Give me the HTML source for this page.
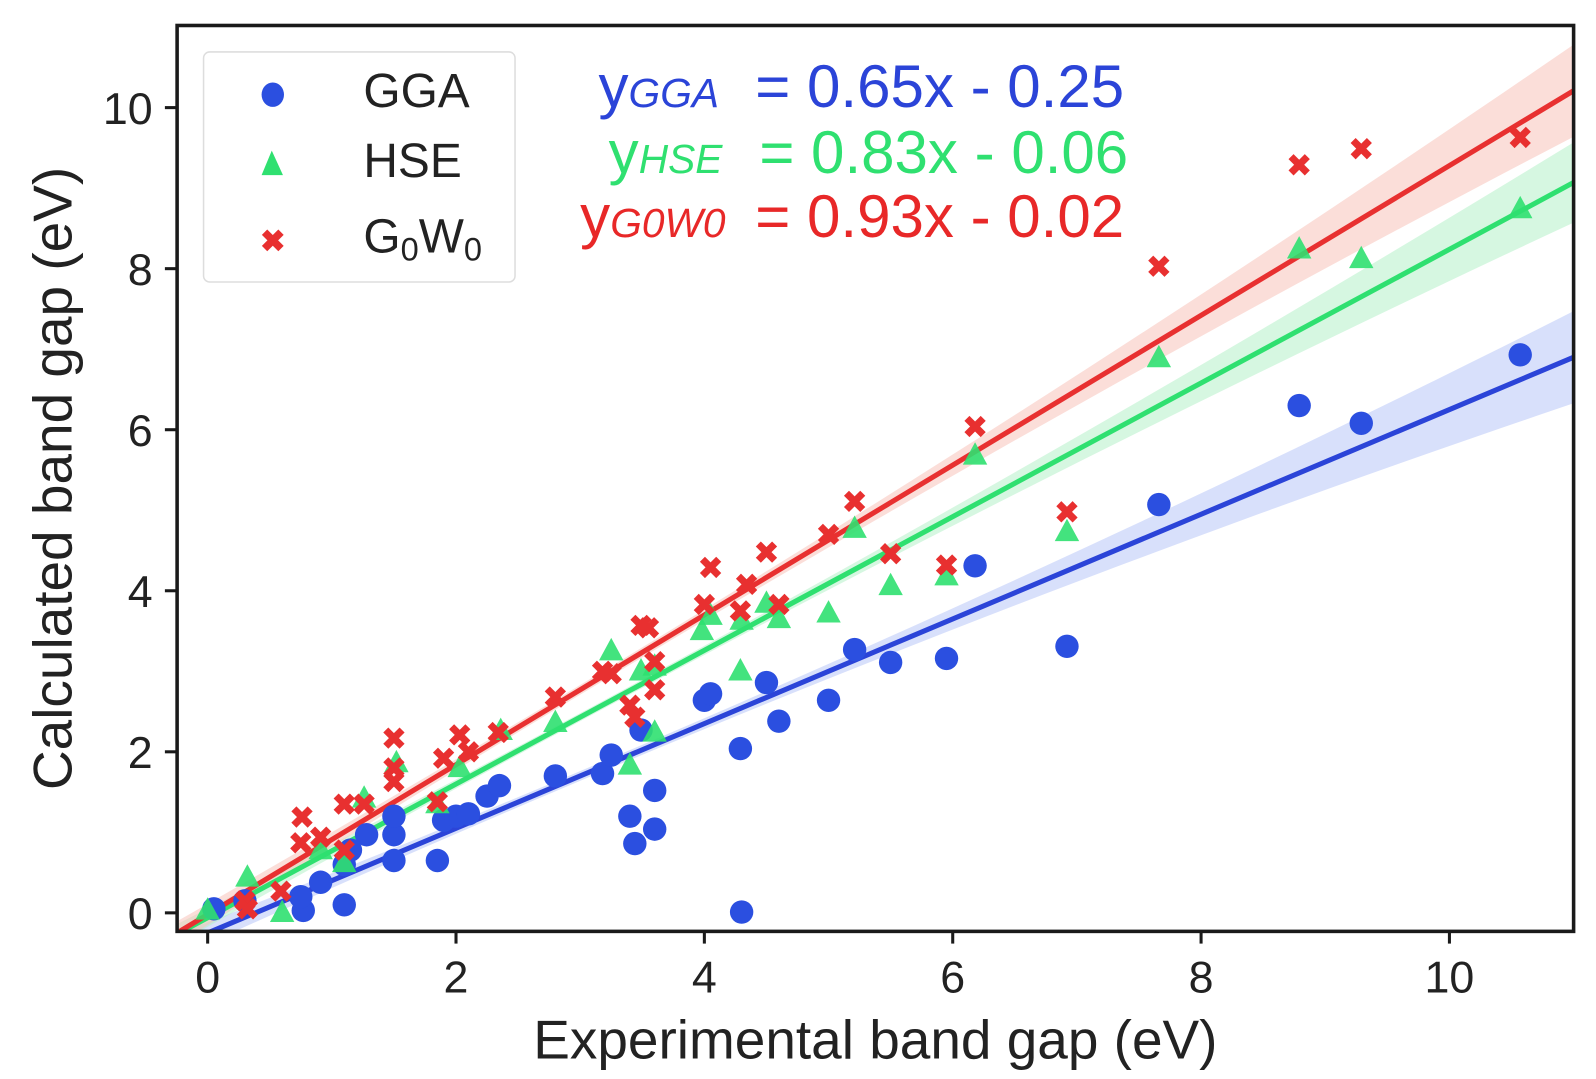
<!DOCTYPE html>
<html><head><meta charset="utf-8"><style>
body{margin:0;background:#fff;width:1596px;height:1079px;overflow:hidden}
svg{font-family:"Liberation Sans",sans-serif;display:block}
</style></head><body>
<svg id="chart" width="1596" height="1079" viewBox="0 0 1568 1060" xmlns="http://www.w3.org/2000/svg">
<g id="bands"></g><g id="lines"></g><g id="marks"></g>
<rect x="174" y="25" width="1372" height="890" fill="none" stroke="#1a1a1a" stroke-width="3.5"/>
<g id="ticks"></g>
<text x="860" y="1040" font-size="54" text-anchor="middle" fill="#222">Experimental band gap (eV)</text>
<text transform="translate(70,470) rotate(-90)" font-size="54" text-anchor="middle" fill="#222">Calculated band gap (eV)</text>
<g>
<rect x="200" y="51" width="306" height="226" rx="6" fill="#fff" stroke="#ddd" stroke-width="1.5"/>
<ellipse cx="268" cy="93" rx="11" ry="12" fill="#2b4fe0"/>
<text x="357" y="105" font-size="47" fill="#222">GGA</text>
<polygon points="267,148 257,172 278,172" fill="#2fe070"/>
<text x="357" y="174" font-size="47" fill="#222">HSE</text>
<text x="268" y="247" font-size="30" font-weight="bold" fill="#e83030" text-anchor="middle">✖</text>
<text x="357" y="248" font-size="47" fill="#222">G<tspan font-size="32" dy="8">0</tspan><tspan dy="-8">W</tspan><tspan font-size="32" dy="8">0</tspan></text>
</g>
<g font-size="59">
<text x="588" y="105" fill="#2b44d8">y<tspan font-size="40" font-style="italic">GGA</tspan><tspan x="742">= 0.65x - 0.25</tspan></text>
<text x="598" y="170" fill="#2fe070">y<tspan font-size="40" font-style="italic">HSE</tspan><tspan x="746">= 0.83x - 0.06</tspan></text>
<text x="570" y="233" fill="#e82828">y<tspan font-size="40" font-style="italic">G0W0</tspan><tspan x="742">= 0.93x - 0.02</tspan></text>
</g>
</svg>
<script>
const xTicks=[0,2,4,6,8,10];
const yTicks=[0,2,4,6,8,10];
const ggaX=[0.05,0.3,0.77,0.75,0.91,1.1,1.1,1.15,1.28,1.5,1.5,1.5,1.85,1.9,2.0,2.1,2.25,2.35,2.8,3.18,3.25,3.4,3.44,3.49,3.6,3.6,4.0,4.05,4.29,4.3,4.5,4.6,5.0,5.21,5.5,5.95,6.18,6.92,7.66,8.79,9.29,10.57];
const ggaY=[0.05,0.15,0.03,0.2,0.38,0.1,0.6,0.78,0.97,0.97,1.2,0.65,0.65,1.15,1.2,1.23,1.45,1.58,1.7,1.73,1.96,1.2,0.86,2.27,1.52,1.04,2.64,2.72,2.04,0.01,2.86,2.38,2.64,3.27,3.11,3.16,4.31,3.31,5.07,6.3,6.08,6.93];
const hseX=[0.0,0.32,0.6,0.91,1.1,1.26,1.52,1.85,2.03,2.36,2.8,3.25,3.4,3.49,3.6,3.6,3.98,4.05,4.29,4.3,4.5,4.6,5.0,5.21,5.5,5.95,6.18,6.92,7.66,8.79,9.29,10.57];
const hseY=[0.03,0.44,0.0,0.78,0.62,1.42,1.86,1.35,1.8,2.26,2.36,3.25,1.83,3.0,2.24,3.06,3.5,3.69,3.0,3.63,3.84,3.65,3.72,4.77,4.06,4.18,5.68,4.73,6.89,8.24,8.12,8.74];
const gwX=[0.3,0.32,0.59,0.76,0.75,0.91,1.1,1.1,1.26,1.5,1.5,1.5,1.85,1.9,2.03,2.1,2.34,2.8,3.18,3.25,3.4,3.44,3.49,3.55,3.6,3.6,4.0,4.05,4.29,4.34,4.5,4.6,5.0,5.21,5.5,5.95,6.18,6.92,7.66,8.79,9.29,10.57];
const gwY=[0.15,0.05,0.27,1.19,0.87,0.94,0.78,1.35,1.35,2.17,1.63,1.8,1.38,1.92,2.21,2.0,2.24,2.68,3.0,2.97,2.58,2.43,3.57,3.54,2.77,3.12,3.83,4.29,3.75,4.08,4.48,3.83,4.7,5.11,4.46,4.32,6.04,4.98,8.03,9.29,9.49,9.63];
const fitSlope=[0.65,0.83,0.93];
const fitIntercept=[-0.25,-0.06,-0.02];
const colors=['#2b44d8','#2fe070','#e83030'];
const bandColors=['#b8c6f7','#b4f0c8','#f7c2ba'];
const NS='http://www.w3.org/2000/svg';
const X0=174,X1=1546,Y0=25,Y1=915;
const xmin=-0.246,xmax=11.0,ymin=-0.23,ymax=11.02;
const sx=v=>X0+(v-xmin)/(xmax-xmin)*(X1-X0);
const sy=v=>Y1-(v-ymin)/(ymax-ymin)*(Y1-Y0);
function mk(tag,parent,attrs){const e=document.createElementNS(NS,tag);for(const k in attrs)e.setAttribute(k,attrs[k]);parent.appendChild(e);return e;}
const tg=document.getElementById('ticks');
xTicks.forEach(t=>{
 const l=mk('line',tg,{x1:sx(t),x2:sx(t),y1:Y1,y2:Y1+12,stroke:'#1a1a1a','stroke-width':3});
 
 
 const tx=mk('text',tg,{x:sx(t),y:975,'font-size':44,'text-anchor':'middle',fill:'#222'});
 tx.textContent=t;
 
 
});
yTicks.forEach(t=>{
 const l=mk('line',tg,{x1:X0-12,x2:X0,y1:sy(t),y2:sy(t),stroke:'#1a1a1a','stroke-width':3});
 
 
 const tx=mk('text',tg,{x:X0-24,y:sy(t)+16,'font-size':44,'text-anchor':'end',fill:'#222'});
 tx.textContent=t;
 
 
});
const bg=document.getElementById('bands'),lg=document.getElementById('lines');
const names=['gga','hse','g0w0'];
const bandBase=[0.06,0.05,0.06],bandGrow=[0.008,0.007,0.008];
for(let i=0;i<3;i++){
 const f=x=>fitSlope[i]*x+fitIntercept[i];
 const top=[],bot=[];
 for(let k=0;k<=40;k++){const x=xmin+(xmax-xmin)*k/40;const w=bandBase[i]+bandGrow[i]*(x-3)*(x-3);top.push(sx(x)+','+sy(f(x)+w));bot.unshift(sx(x)+','+sy(f(x)-w));}
 const p=mk('polygon',bg,{points:top.concat(bot).join(' '),fill:bandColors[i],opacity:0.55});
 
 
 const l=mk('line',lg,{x1:sx(xmin),y1:sy(f(xmin)),x2:sx(xmax),y2:sy(f(xmax)),stroke:colors[i],'stroke-width':5});
 
 
}
const mg=document.getElementById('marks');
const clip=mk('clipPath',document.getElementById('chart'),{id:'pc'});mk('rect',clip,{x:X0,y:Y0,width:X1-X0,height:Y1-Y0});
mg.setAttribute('clip-path','url(#pc)');
document.getElementById('bands').setAttribute('clip-path','url(#pc)');
document.getElementById('lines').setAttribute('clip-path','url(#pc)');
ggaX.forEach((x,i)=>{const c=mk('circle',mg,{cx:sx(x),cy:sy(ggaY[i]),r:11.5,fill:'#2b4fe0'});
 
 });
hseX.forEach((x,i)=>{const cx=sx(x),cy=sy(hseY[i]);const p=mk('polygon',mg,{points:`${cx},${cy-13} ${cx-12},${cy+9} ${cx+12},${cy+9}`,fill:'#2fe070',opacity:0.9});
 
 });
gwX.forEach((x,i)=>{const cx=sx(x),cy=sy(gwY[i]);const d=`M${cx-8},${cy-8}L${cx+8},${cy+8}M${cx+8},${cy-8}L${cx-8},${cy+8}`;const p=mk('path',mg,{d:d,stroke:'#e83030','stroke-width':7});
 
 });
</script>
</body></html>
